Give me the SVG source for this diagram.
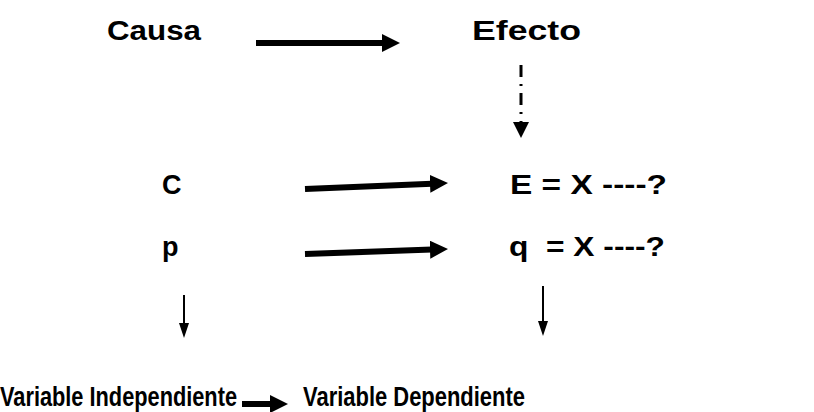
<svg xmlns="http://www.w3.org/2000/svg" width="814" height="412" viewBox="0 0 814 412">
<style>
text{font-family:"Liberation Sans",Arial,sans-serif;font-weight:bold;font-size:28px;fill:#000}
.mid{font-size:27px}
.thick{stroke:#000;stroke-width:6;fill:none}
.thin{stroke:#000;stroke-width:2;fill:none}
</style>
<defs>
<marker id="big" markerUnits="userSpaceOnUse" markerWidth="20" markerHeight="20" refX="2" refY="9" orient="auto"><path d="M0,0 L18,9 L0,18 Z" fill="#000"/></marker>
</defs>
<g id="causa"><text x="107" y="40" textLength="94" lengthAdjust="spacingAndGlyphs">Causa</text></g>
<g id="efecto"><text x="472" y="40" textLength="109" lengthAdjust="spacingAndGlyphs">Efecto</text></g>
<g id="c"><text class="mid" x="162" y="194">C</text></g>
<g id="e"><text class="mid" x="510" y="194" textLength="157" lengthAdjust="spacingAndGlyphs">E = X ----?</text></g>
<g id="p"><text class="mid" x="162" y="256">p</text></g>
<g id="q"><text class="mid" x="509" y="256" textLength="156" lengthAdjust="spacingAndGlyphs" xml:space="preserve">q  = X ----?</text></g>
<g id="vi"><text x="0" y="406" textLength="237" lengthAdjust="spacingAndGlyphs">Variable Independiente</text></g>
<g id="vd"><text x="303" y="406" textLength="222" lengthAdjust="spacingAndGlyphs">Variable Dependiente</text></g>
<g id="connectors">
<line class="thick" x1="256" y1="43" x2="384" y2="43" marker-end="url(#big)"/>
<path d="M521,65 V122" style="stroke:#000;stroke-width:3;fill:none;stroke-dasharray:12 7 2 7"/>
<path d="M513,122 L529,122 L521,138 Z" fill="#000"/>
<line class="thick" x1="305" y1="189" x2="432" y2="183.7" marker-end="url(#big)"/>
<line class="thick" x1="305" y1="254" x2="432" y2="249.6" marker-end="url(#big)"/>
<line class="thin" x1="184" y1="295" x2="184" y2="324"/>
<path d="M179,323 L189,323 L184,338 Z" fill="#000"/>
<line class="thin" x1="543" y1="286" x2="543" y2="322"/>
<path d="M538,321 L548,321 L543,336 Z" fill="#000"/>
<line class="thick" x1="242" y1="404" x2="272" y2="404" marker-end="url(#big)"/>
</g>
</svg>
